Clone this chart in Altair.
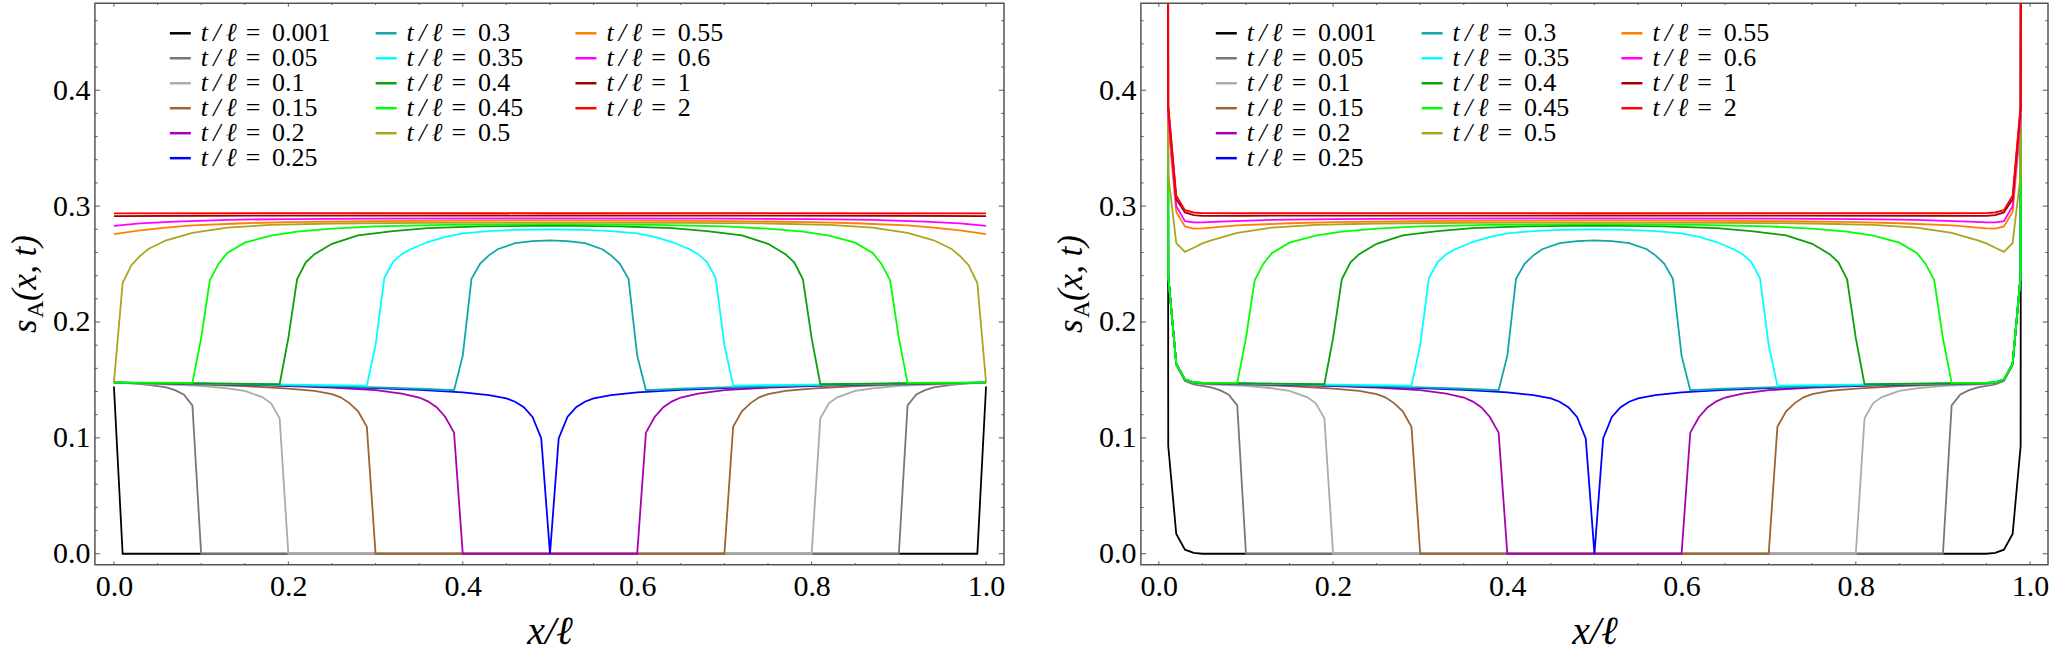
import altair as alt
import pandas as pd

SERIF = "Liberation Serif"
FRAME = "#555555"

SERIES = ["0.001", "0.05", "0.1", "0.15", "0.2", "0.25", "0.3", "0.35",
          "0.4", "0.45", "0.5", "0.55", "0.6", "1", "2"]
COLORS = ["#000000", "#777777", "#ababab", "#9c6430", "#a800b0", "#0000ff",
          "#10a6aa", "#00ffff", "#0aa00a", "#00ff00", "#aca41a", "#ff8000",
          "#ff00ff", "#a00000", "#ff0000"]

# ---------------- left panel curves (x/l, s_A) ----------------
X_0001 = [0, 0.01, 0.99, 1]
Y_0001 = [0.1444, 0, 0, 0.1444]
X_005 = [0, 0.02, 0.04, 0.06, 0.07, 0.08, 0.09, 0.10, 0.90, 0.91, 0.92, 0.93, 0.94, 0.96, 0.98, 1]
Y_005 = [0.1477, 0.1470, 0.1458, 0.1435, 0.1412, 0.1375, 0.1280, 0, 0, 0.1280, 0.1375, 0.1412, 0.1435, 0.1458, 0.1470, 0.1477]
X_01 = [0, 0.05, 0.10, 0.13, 0.15, 0.17, 0.18, 0.19, 0.20, 0.80, 0.81, 0.82, 0.83, 0.85, 0.87, 0.90, 0.95, 1]
Y_01 = [0.1477, 0.1465, 0.1448, 0.1428, 0.1405, 0.1352, 0.1300, 0.1170, 0, 0, 0.1170, 0.1300, 0.1352, 0.1405, 0.1428, 0.1448, 0.1465, 0.1477]
X_015 = [0, 0.05, 0.10, 0.15, 0.20, 0.23, 0.25, 0.26, 0.27, 0.28, 0.29, 0.30, 0.70, 0.71, 0.72, 0.73, 0.74, 0.75, 0.77, 0.80, 0.85, 0.90, 0.95, 1]
Y_015 = [0.1477, 0.1470, 0.1460, 0.1446, 0.1425, 0.1405, 0.1378, 0.1350, 0.1300, 0.1230, 0.1095, 0, 0, 0.1095, 0.1230, 0.1300, 0.1350, 0.1378, 0.1405, 0.1425, 0.1446, 0.1460, 0.1470, 0.1477]
X_02 = [0, 0.1, 0.2, 0.25, 0.30, 0.33, 0.35, 0.36, 0.37, 0.38, 0.39, 0.40, 0.60, 0.61, 0.62, 0.63, 0.64, 0.65, 0.67, 0.70, 0.75, 0.80, 0.90, 1]
Y_02 = [0.1477, 0.1466, 0.1447, 0.1433, 0.1412, 0.1382, 0.1348, 0.1315, 0.1265, 0.1180, 0.1045, 0, 0, 0.1045, 0.1180, 0.1265, 0.1315, 0.1348, 0.1382, 0.1412, 0.1433, 0.1447, 0.1466, 0.1477]
X_025 = [0, 0.1, 0.2, 0.3, 0.35, 0.40, 0.43, 0.45, 0.46, 0.47, 0.48, 0.49, 0.50, 0.51, 0.52, 0.53, 0.54, 0.55, 0.57, 0.60, 0.65, 0.70, 0.80, 0.90, 1]
Y_025 = [0.1477, 0.1468, 0.1452, 0.1430, 0.1415, 0.1393, 0.1368, 0.1340, 0.1312, 0.1265, 0.1180, 0.0996, 0, 0.0996, 0.1180, 0.1265, 0.1312, 0.1340, 0.1368, 0.1393, 0.1415, 0.1430, 0.1452, 0.1468, 0.1477]
X_03 = [0, 0.1, 0.2, 0.3, 0.35, 0.39, 0.40, 0.41, 0.42, 0.43, 0.44, 0.46, 0.48, 0.50, 0.52, 0.54, 0.56, 0.57, 0.58, 0.59, 0.60, 0.61, 0.65, 0.70, 0.80, 0.90, 1]
Y_03 = [0.1477, 0.1468, 0.1453, 0.1435, 0.1424, 0.1411, 0.1710, 0.2373, 0.2505, 0.2575, 0.2628, 0.2680, 0.2698, 0.2704, 0.2698, 0.2680, 0.2628, 0.2575, 0.2505, 0.2373, 0.1710, 0.1411, 0.1424, 0.1435, 0.1453, 0.1468, 0.1477]
X_035 = [0, 0.1, 0.2, 0.29, 0.30, 0.31, 0.32, 0.33, 0.34, 0.36, 0.38, 0.40, 0.43, 0.46, 0.50, 0.54, 0.57, 0.60, 0.62, 0.64, 0.66, 0.67, 0.68, 0.69, 0.70, 0.71, 0.80, 0.90, 1]
Y_035 = [0.1477, 0.1470, 0.1460, 0.1451, 0.1800, 0.2380, 0.2517, 0.2585, 0.2628, 0.2690, 0.2735, 0.2765, 0.2785, 0.2795, 0.2798, 0.2795, 0.2785, 0.2765, 0.2735, 0.2690, 0.2628, 0.2585, 0.2517, 0.2380, 0.1800, 0.1451, 0.1460, 0.1470, 0.1477]
X_04 = [0, 0.1, 0.19, 0.20, 0.21, 0.22, 0.23, 0.25, 0.28, 0.32, 0.36, 0.42, 0.50, 0.58, 0.64, 0.68, 0.72, 0.75, 0.77, 0.78, 0.79, 0.80, 0.81, 0.90, 1]
Y_04 = [0.1477, 0.1470, 0.1463, 0.1860, 0.2368, 0.2515, 0.2585, 0.2675, 0.2747, 0.2785, 0.2810, 0.2825, 0.2832, 0.2825, 0.2810, 0.2785, 0.2747, 0.2675, 0.2585, 0.2515, 0.2368, 0.1860, 0.1463, 0.1470, 0.1477]
X_045 = [0, 0.05, 0.09, 0.10, 0.11, 0.12, 0.13, 0.15, 0.18, 0.21, 0.25, 0.30, 0.38, 0.50, 0.62, 0.70, 0.75, 0.79, 0.82, 0.85, 0.87, 0.88, 0.89, 0.90, 0.91, 0.95, 1]
Y_045 = [0.1477, 0.1476, 0.1474, 0.1860, 0.2360, 0.2503, 0.2595, 0.2685, 0.2745, 0.2780, 0.2805, 0.2825, 0.2838, 0.2845, 0.2838, 0.2825, 0.2805, 0.2780, 0.2745, 0.2685, 0.2595, 0.2503, 0.2360, 0.1860, 0.1474, 0.1476, 0.1477]
X_05 = [0, 0.01, 0.02, 0.03, 0.04, 0.06, 0.09, 0.13, 0.18, 0.25, 0.35, 0.50, 0.65, 0.75, 0.82, 0.87, 0.91, 0.94, 0.96, 0.97, 0.98, 0.99, 1]
Y_05 = [0.1477, 0.2336, 0.2490, 0.2570, 0.2633, 0.2705, 0.2770, 0.2815, 0.2838, 0.2850, 0.2856, 0.2858, 0.2856, 0.2850, 0.2838, 0.2815, 0.2770, 0.2705, 0.2633, 0.2570, 0.2490, 0.2336, 0.1477]
X_055 = [0, 0.03, 0.06, 0.09, 0.15, 0.20, 0.30, 0.40, 0.50, 0.60, 0.70, 0.80, 0.85, 0.91, 0.94, 0.97, 1]
Y_055 = [0.2759, 0.2790, 0.2815, 0.2833, 0.2852, 0.2862, 0.2871, 0.2875, 0.2877, 0.2875, 0.2871, 0.2862, 0.2852, 0.2833, 0.2815, 0.2790, 0.2759]
X_06 = [0, 0.03, 0.07, 0.13, 0.20, 0.30, 0.50, 0.70, 0.80, 0.87, 0.93, 0.97, 1]
Y_06 = [0.2830, 0.2851, 0.2866, 0.2882, 0.2888, 0.2892, 0.2895, 0.2892, 0.2888, 0.2882, 0.2866, 0.2851, 0.2830]
X_1 = [0, 0.1, 0.5, 0.9, 1]
Y_1 = [0.2914, 0.2917, 0.2919, 0.2917, 0.2914]
X_2 = [0, 0.5, 1]
Y_2 = [0.2938, 0.2940, 0.2938]

LEFT_X = [X_0001, X_005, X_01, X_015, X_02, X_025, X_03, X_035, X_04, X_045, X_05, X_055, X_06, X_1, X_2]
LEFT_Y = [Y_0001, Y_005, Y_01, Y_015, Y_02, Y_025, Y_03, Y_035, Y_04, Y_045, Y_05, Y_055, Y_06, Y_1, Y_2]

# ---------------- right panel: boundary rows near x = 0 and x = 1 ----------------
EDGE_X_LEFT = [0.0098, 0.0108, 0.02, 0.03, 0.04, 0.05]
EDGE_X_RIGHT = [0.95, 0.96, 0.97, 0.98, 0.9892, 0.9902]
EDGE_Y_LEFT = [
    [1.2, 0.093, 0.017, 0.0035, 0.0008, 0.0],
    [1.2, 0.239, 0.163, 0.1490, 0.1462, 0.1448],
    [1.2, 0.240, 0.164, 0.1500, 0.1472, 0.1465],
    [1.2, 0.240, 0.164, 0.1502, 0.1476, 0.1470],
    [1.2, 0.240, 0.164, 0.1503, 0.1478, 0.1472],
    [1.2, 0.240, 0.164, 0.1503, 0.1478, 0.1472],
    [1.2, 0.240, 0.164, 0.1503, 0.1478, 0.1472],
    [1.2, 0.240, 0.164, 0.1504, 0.1479, 0.1473],
    [1.2, 0.240, 0.164, 0.1504, 0.1480, 0.1474],
    [1.2, 0.240, 0.164, 0.1505, 0.1482, 0.1476],
    [1.2, 0.327, 0.268, 0.2605, 0.2641, 0.2678],
    [1.2, 0.370, 0.295, 0.2825, 0.2806, 0.2808],
    [1.2, 0.377, 0.300, 0.2870, 0.2860, 0.2860],
    [1.2, 0.385, 0.306, 0.2945, 0.2922, 0.2916],
    [1.2, 0.387, 0.309, 0.2965, 0.2945, 0.2940],
]
EDGE_Y_RIGHT = [
    [0.0, 0.0008, 0.0035, 0.017, 0.093, 1.2],
    [0.1448, 0.1462, 0.1490, 0.163, 0.239, 1.2],
    [0.1465, 0.1472, 0.1500, 0.164, 0.240, 1.2],
    [0.1470, 0.1476, 0.1502, 0.164, 0.240, 1.2],
    [0.1472, 0.1478, 0.1503, 0.164, 0.240, 1.2],
    [0.1472, 0.1478, 0.1503, 0.164, 0.240, 1.2],
    [0.1472, 0.1478, 0.1503, 0.164, 0.240, 1.2],
    [0.1473, 0.1479, 0.1504, 0.164, 0.240, 1.2],
    [0.1474, 0.1480, 0.1504, 0.164, 0.240, 1.2],
    [0.1476, 0.1482, 0.1505, 0.164, 0.240, 1.2],
    [0.2678, 0.2641, 0.2605, 0.268, 0.327, 1.2],
    [0.2808, 0.2806, 0.2825, 0.295, 0.370, 1.2],
    [0.2860, 0.2860, 0.2870, 0.300, 0.377, 1.2],
    [0.2916, 0.2922, 0.2945, 0.306, 0.385, 1.2],
    [0.2940, 0.2945, 0.2965, 0.309, 0.387, 1.2],
]

# ---------------- ticks ----------------
X_MAJOR = [0.0, 0.2, 0.4, 0.6, 0.8, 1.0]
X_MINOR = [0.05, 0.1, 0.15, 0.25, 0.3, 0.35, 0.45, 0.5, 0.55, 0.65, 0.7, 0.75, 0.85, 0.9, 0.95]
Y_MAJOR = [0.0, 0.1, 0.2, 0.3, 0.4]
Y_MINOR = [0.02, 0.04, 0.06, 0.08, 0.12, 0.14, 0.16, 0.18, 0.22, 0.24, 0.26, 0.28,
           0.32, 0.34, 0.36, 0.38, 0.42, 0.44, 0.46]

# legend layout
LEG_COL = [0, 0, 0, 0, 0, 0, 1, 1, 1, 1, 1, 2, 2, 2, 2]
LEG_ROW = [0, 1, 2, 3, 4, 5, 0, 1, 2, 3, 4, 0, 1, 2, 3]
LEG_X = [75, 281, 481]

H = 562
YDOM = [-0.0095, 0.475]
XTITLE = "x/ℓ"


def left_df():
    rows = []
    for s, xs, ys in zip(SERIES, LEFT_X, LEFT_Y):
        for i, (x, y) in enumerate(zip(xs, ys)):
            rows.append({"series": s, "i": i, "x": x, "y": y})
    return pd.DataFrame(rows)


def right_df():
    rows = []
    for k, s in enumerate(SERIES):
        pts = list(zip(EDGE_X_LEFT, EDGE_Y_LEFT[k]))
        pts += [(x, y) for x, y in zip(LEFT_X[k], LEFT_Y[k]) if 0.05 < x < 0.95]
        pts += list(zip(EDGE_X_RIGHT, EDGE_Y_RIGHT[k]))
        for i, (x, y) in enumerate(pts):
            rows.append({"series": s, "i": i, "x": x, "y": y})
    return pd.DataFrame(rows)


def panel(df, W, xdom):
    xs = alt.Scale(domain=xdom, nice=False, zero=False)
    ys = alt.Scale(domain=YDOM, nice=False, zero=False)
    cs = alt.Scale(domain=SERIES, range=COLORS)

    xaxis = alt.Axis(values=X_MAJOR, format=".1f", title=XTITLE, grid=False, ticks=False,
                     tickSize=0, domain=False, labelFont=SERIF, labelFontSize=30,
                     labelColor="black", labelPadding=7, labelFlush=False,
                     labelOverlap=False,
                     titleFont=SERIF, titleFontSize=40, titleFontStyle="italic",
                     titleFontWeight="normal", titleColor="black", titlePadding=10)
    yaxis = alt.Axis(values=Y_MAJOR, format=".1f", title=None, grid=False, ticks=False,
                     tickSize=0, domain=False, labelFont=SERIF, labelFontSize=30,
                     labelColor="black", labelPadding=5, labelFlush=False,
                     labelOverlap=False)

    lines = alt.Chart(df).mark_line(strokeWidth=1.8, clip=True).encode(
        x=alt.X("x:Q", scale=xs, axis=xaxis, title=XTITLE),
        y=alt.Y("y:Q", scale=ys, axis=yaxis, title=None),
        color=alt.Color("series:N", scale=cs, legend=None),
        order=alt.Order("i:Q"),
    )

    layers = [lines]
    tick = dict(color=FRAME, strokeWidth=1)
    ymaj = pd.DataFrame({"y": Y_MAJOR})
    ymin = pd.DataFrame({"y": Y_MINOR})
    xmaj = pd.DataFrame({"x": X_MAJOR})
    xmin = pd.DataFrame({"x": X_MINOR})
    for d, L in ((ymaj, 5.3), (ymin, 2.7)):
        layers.append(alt.Chart(d).mark_rule(**tick).encode(
            y=alt.Y("y:Q", scale=ys, title=None), x=alt.value(0), x2=alt.value(L)))
        layers.append(alt.Chart(d).mark_rule(**tick).encode(
            y=alt.Y("y:Q", scale=ys, title=None), x=alt.value(W), x2=alt.value(W - L)))
    for d, L in ((xmaj, 3.3), (xmin, 1.7)):
        layers.append(alt.Chart(d).mark_rule(**tick).encode(
            x=alt.X("x:Q", scale=xs, title=XTITLE), y=alt.value(H), y2=alt.value(H - L)))
        layers.append(alt.Chart(d).mark_rule(**tick).encode(
            x=alt.X("x:Q", scale=xs, title=XTITLE), y=alt.value(0), y2=alt.value(L)))

    # legend (inside plot)
    leg = pd.DataFrame({"series": SERIES, "col": LEG_COL, "row": LEG_ROW})
    leg["x0"] = [LEG_X[c] for c in leg["col"]]
    leg["x1"] = leg["x0"] + 21
    leg["yy"] = 30 + 25 * leg["row"]
    leg["tx"] = leg["x0"] + 31
    leg["ex"] = leg["x0"] + 76
    leg["eq"] = ["= \u2009" + s for s in SERIES]
    layers.append(alt.Chart(leg).mark_rule(strokeWidth=2.5).encode(
        x=alt.X("x0:Q", scale=None), x2="x1:Q",
        y=alt.Y("yy:Q", scale=None),
        color=alt.Color("series:N", scale=cs, legend=None)))
    layers.append(alt.Chart(leg).mark_text(align="left", baseline="middle", font=SERIF,
                                           fontSize=26, fontStyle="italic", color="black").encode(
        x=alt.X("tx:Q", scale=None), y=alt.Y("yy:Q", scale=None),
        text=alt.value("t\u2009/\u2009ℓ")))
    layers.append(alt.Chart(leg).mark_text(align="left", baseline="middle", font=SERIF,
                                           fontSize=26, color="black").encode(
        x=alt.X("ex:Q", scale=None), y=alt.Y("yy:Q", scale=None),
        text="eq:N"))

    # y-axis title  s_A(x, t)
    one = pd.DataFrame({"k": [0]})
    layers.append(alt.Chart(one).mark_text(align="left", baseline="alphabetic", angle=270,
                                           font=SERIF, fontSize=35, fontStyle="italic",
                                           color="black").encode(
        x=alt.value(-59), y=alt.value(330), text=alt.value("s")))
    layers.append(alt.Chart(one).mark_text(align="left", baseline="alphabetic", angle=270,
                                           font=SERIF, fontSize=24, color="black").encode(
        x=alt.value(-52), y=alt.value(315), text=alt.value("A")))
    layers.append(alt.Chart(one).mark_text(align="left", baseline="alphabetic", angle=270,
                                           font=SERIF, fontSize=35, fontStyle="italic",
                                           color="black").encode(
        x=alt.value(-59), y=alt.value(298), text=alt.value("(x, t)")))
    # white layout anchor at the left edge of the panel's area
    layers.append(alt.Chart(one).mark_rule(color="white", strokeWidth=1).encode(
        x=alt.value(-93), x2=alt.value(-92), y=alt.value(280), y2=alt.value(281)))

    return alt.layer(*layers).properties(width=W, height=H)


p1 = panel(left_df(), 910, [-0.0218, 1.0206])
p2 = panel(right_df(), 908, [-0.0206, 1.0206])

chart = alt.hconcat(p1, p2, spacing=137, bounds="flush").properties(
    padding={"left": 0, "top": 1, "right": 0, "bottom": 0}
).configure(font=SERIF, background="white").configure_view(
    stroke=FRAME, strokeWidth=1.5
)

chart.save("out.html", embed_options={"renderer": "svg", "actions": False})
